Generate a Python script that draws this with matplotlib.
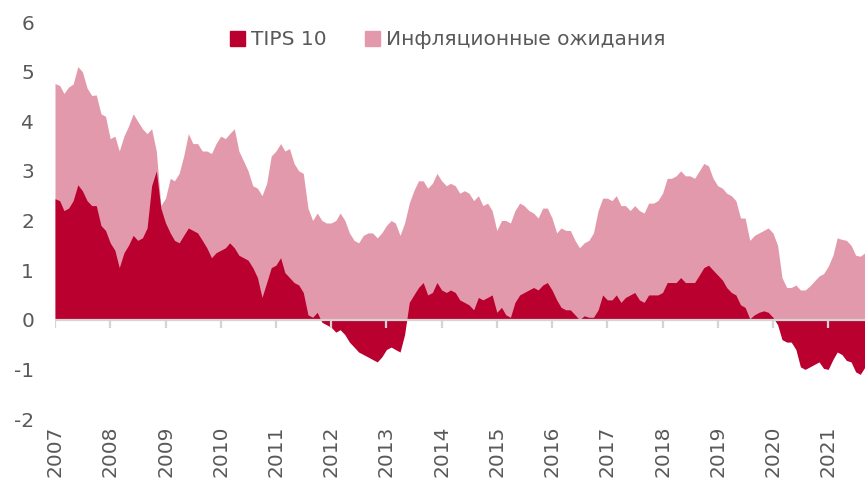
import matplotlib
matplotlib.use("Agg")
import matplotlib.pyplot as plt
import matplotlib.patches as mpatches
import numpy as np
import pandas as pd

# ── Monthly data, Jan 2007 – Sep 2021 (%) ─────────────────────────────────────
tips10 = [
    # 2007
    2.44, 2.40, 2.20, 2.25, 2.40, 2.72, 2.60, 2.40, 2.30, 2.30, 1.90, 1.80,
    # 2008
    1.55, 1.40, 1.05, 1.35, 1.50, 1.70, 1.60, 1.65, 1.85, 2.70, 3.00, 2.25,
    # 2009
    1.95, 1.75, 1.60, 1.55, 1.70, 1.85, 1.80, 1.75, 1.60, 1.45, 1.25, 1.35,
    # 2010
    1.40, 1.45, 1.55, 1.45, 1.30, 1.25, 1.20, 1.05, 0.85, 0.45, 0.75, 1.05,
    # 2011
    1.10, 1.25, 0.95, 0.85, 0.75, 0.70, 0.55, 0.10, 0.05, 0.15, -0.05, -0.10,
    # 2012
    -0.15, -0.25, -0.20, -0.30, -0.45, -0.55, -0.65, -0.70, -0.75, -0.80, -0.85, -0.75,
    # 2013
    -0.60, -0.55, -0.60, -0.65, -0.30, 0.35, 0.50, 0.65, 0.75, 0.50, 0.55, 0.75,
    # 2014
    0.60, 0.55, 0.60, 0.55, 0.40, 0.35, 0.30, 0.20, 0.45, 0.40, 0.45, 0.50,
    # 2015
    0.15, 0.25, 0.10, 0.05, 0.35, 0.50, 0.55, 0.60, 0.65, 0.60, 0.70, 0.75,
    # 2016
    0.60, 0.40, 0.25, 0.20, 0.20, 0.10, 0.00, 0.08, 0.05, 0.05, 0.20, 0.50,
    # 2017
    0.40, 0.40, 0.50, 0.35, 0.45, 0.50, 0.55, 0.40, 0.35, 0.50, 0.50, 0.50,
    # 2018
    0.55, 0.75, 0.75, 0.75, 0.85, 0.75, 0.75, 0.75, 0.90, 1.05, 1.10, 1.00,
    # 2019
    0.90, 0.80, 0.65, 0.55, 0.50, 0.30, 0.25, 0.02, 0.10, 0.15, 0.18, 0.15,
    # 2020
    0.05, -0.10, -0.40, -0.45, -0.45, -0.60, -0.95, -1.00, -0.95, -0.90, -0.85, -0.98,
    # 2021
    -1.00, -0.80, -0.65, -0.70, -0.82, -0.85, -1.05, -1.10, -0.95,
]

breakeven = [
    # 2007
    2.32, 2.32, 2.36, 2.44, 2.35, 2.38, 2.40, 2.27, 2.22, 2.23, 2.25, 2.30,
    # 2008
    2.10, 2.30, 2.35, 2.35, 2.40, 2.45, 2.40, 2.20, 1.90, 1.15, 0.40, 0.05,
    # 2009
    0.50, 1.10, 1.20, 1.40, 1.60, 1.90, 1.75, 1.80, 1.80, 1.95, 2.10, 2.20,
    # 2010
    2.30, 2.20, 2.20, 2.40, 2.10, 1.95, 1.80, 1.65, 1.80, 2.05, 2.00, 2.25,
    # 2011
    2.30, 2.30, 2.45, 2.60, 2.40, 2.30, 2.40, 2.15, 1.95, 2.00, 2.05, 2.05,
    # 2012
    2.10, 2.25, 2.35, 2.30, 2.20, 2.15, 2.20, 2.40, 2.50, 2.55, 2.50, 2.50,
    # 2013
    2.50, 2.55, 2.55, 2.35, 2.25, 2.00, 2.10, 2.15, 2.05, 2.15, 2.20, 2.20,
    # 2014
    2.20, 2.15, 2.15, 2.15, 2.15, 2.25, 2.25, 2.20, 2.05, 1.90, 1.90, 1.70,
    # 2015
    1.65, 1.75, 1.90, 1.90, 1.85, 1.85, 1.75, 1.60, 1.50, 1.45, 1.55, 1.50,
    # 2016
    1.45, 1.35, 1.60, 1.60, 1.60, 1.50, 1.45, 1.47, 1.55, 1.70, 2.00, 1.95,
    # 2017
    2.05, 2.00, 2.00, 1.95, 1.85, 1.70, 1.75, 1.80, 1.80, 1.85, 1.85, 1.90,
    # 2018
    2.00, 2.10, 2.10, 2.15, 2.15, 2.15, 2.15, 2.10, 2.10, 2.10, 2.00, 1.85,
    # 2019
    1.80, 1.85, 1.90, 1.95, 1.90, 1.75, 1.80, 1.58, 1.60, 1.60, 1.62, 1.70,
    # 2020
    1.70, 1.60, 1.25, 1.10, 1.10, 1.30, 1.55, 1.60, 1.63, 1.68, 1.73, 1.91,
    # 2021
    2.08, 2.10, 2.30, 2.32, 2.42, 2.35, 2.35, 2.38, 2.30,
]

year_ticks = list(range(2007, 2022))
y_ticks = [-2, -1, 0, 1, 2, 3, 4, 5, 6]

dates = pd.date_range("2007-01-01", periods=len(tips10), freq="MS")
tips = np.array(tips10)
nominal = tips + np.array(breakeven)   # top of the stacked area

# ── Style ─────────────────────────────────────────────────────────────────────
DARK = "#B9002F"
PINK = "#E299AB"
TXT = "#595959"
GRID = "#D4D4D4"
plt.rcParams["font.family"] = ["DejaVu Sans"]
plt.rcParams["axes.unicode_minus"] = False

fig = plt.figure(figsize=(8.65, 4.86), dpi=100)
ax = fig.add_axes([55 / 865, 1 - 419 / 486, 1 - 55 / 865, (419 - 22) / 486])

# pink from zero up to the nominal yield, dark red from zero to TIPS on top
ax.fill_between(dates, 0, nominal, color=PINK, linewidth=0, zorder=1)
ax.fill_between(dates, 0, tips, color=DARK, linewidth=0, zorder=2)

ax.axhline(0, color=GRID, linewidth=1.6, zorder=3)
tick_dates = [pd.Timestamp(f"{y}-01-01") for y in year_ticks]
ax.vlines(tick_dates, -0.17, 0, color=GRID, linewidth=1.6, zorder=3)

ax.set_xlim(dates[0], dates[-1])
ax.set_ylim(-2, 6)
ax.set_yticks(y_ticks)
ax.set_yticklabels([str(v) for v in y_ticks])
ax.set_xticks(tick_dates)
ax.set_xticklabels([str(y) for y in year_ticks], rotation=90, va="top")
ax.tick_params(axis="both", length=0, labelsize=14.5, colors=TXT)
ax.tick_params(axis="x", pad=5)
ax.tick_params(axis="y", pad=15)
for s in ax.spines.values():
    s.set_visible(False)
ax.set_facecolor("white")

handles = [mpatches.Patch(color=DARK, label="TIPS 10"),
           mpatches.Patch(color=PINK, label="Инфляционные ожидания")]
fig.legend(handles=handles, loc="center", bbox_to_anchor=(0.518, 0.918),
           ncol=2, frameon=False, fontsize=14.5, labelcolor=TXT,
           handlelength=0.75, handleheight=0.75, handletextpad=0.3,
           columnspacing=1.9)

fig.savefig("out.png", dpi=100, facecolor="white")
